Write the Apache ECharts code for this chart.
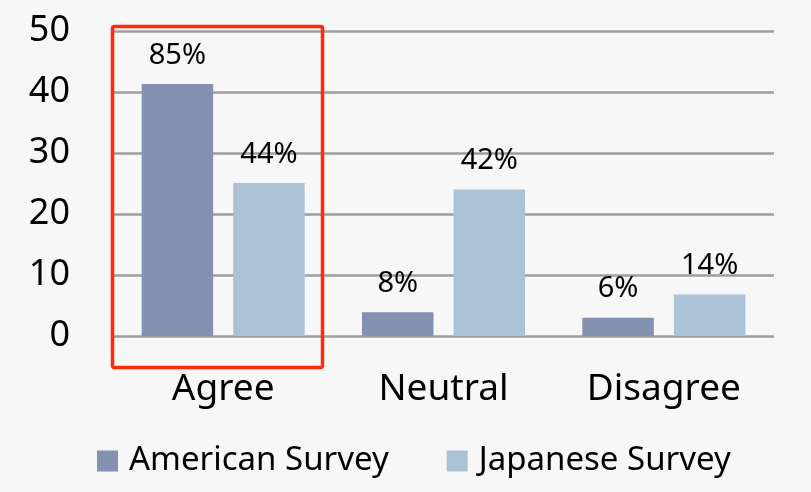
<!DOCTYPE html>
<html><head><meta charset="utf-8">
<script src="https://cdn.jsdelivr.net/npm/echarts@6/dist/echarts.min.js"></script>
<style>html,body{margin:0;padding:0;background:#f7f7f7;}#c{width:811px;height:492px;}</style>
</head><body><div id="c"></div>
<script>
const categories = ['Agree', 'Neutral', 'Disagree'];
const seriesNames = ['American Survey', 'Japanese Survey'];
const americanValues = [41.3, 3.9, 3.0];
const japaneseValues = [25.1, 24.0, 6.8];
const americanLabels = ['85%', '8%', '6%'];
const japaneseLabels = ['44%', '42%', '14%'];
const yTicks = [0, 10, 20, 30, 40, 50];

const FONT = 'Noto Sans';
const chart = echarts.init(document.getElementById('c'));
chart.setOption({
  backgroundColor: '#f7f7f7',
  textStyle: {fontFamily: FONT},
  animation: false,
  grid: {left: 113, right: 37, top: 31, bottom: 156},
  legend: {
    top: 436, left: 92,
    icon: 'rect', itemWidth: 21, itemHeight: 21, itemGap: 58,
    textStyle: {fontSize: 33, lineHeight: 40, color: '#000', fontFamily: FONT, padding: [0, 0, 0, 6]},
    data: seriesNames
  },
  xAxis: {
    type: 'category', data: categories,
    axisLine: {show: false}, axisTick: {show: false},
    axisLabel: {fontSize: 37, color: '#000', margin: 35, fontFamily: FONT}
  },
  yAxis: {
    type: 'value', min: yTicks[0], max: yTicks[yTicks.length-1], interval: 10,
    axisLine: {show: false}, axisTick: {show: false},
    axisLabel: {fontSize: 36, color: '#000', margin: 43, fontFamily: FONT},
    splitLine: {lineStyle: {color: '#9e9e9e', width: 2.5}}
  },
  series: [
    {name: seriesNames[0], type: 'bar', data: americanValues, barGap: '28%', barCategoryGap: '26%',
     itemStyle: {color: '#8591b0'},
     label: {show: true, position: 'top', distance: 14, fontSize: 29, color: '#000', fontFamily: FONT,
             formatter: p => americanLabels[p.dataIndex]}},
    {name: seriesNames[1], type: 'bar', data: japaneseValues,
     itemStyle: {color: '#abc2d6'},
     label: {show: true, position: 'top', distance: 14, fontSize: 29, color: '#000', fontFamily: FONT,
             formatter: p => japaneseLabels[p.dataIndex]}}
  ],
  graphic: [{
    type: 'rect', left: 110, top: 24, z: 100,
    shape: {width: 210, height: 341, r: 2},
    style: {fill: 'none', stroke: '#ff2a0a', lineWidth: 3.5}
  }]
});
</script></body></html>
